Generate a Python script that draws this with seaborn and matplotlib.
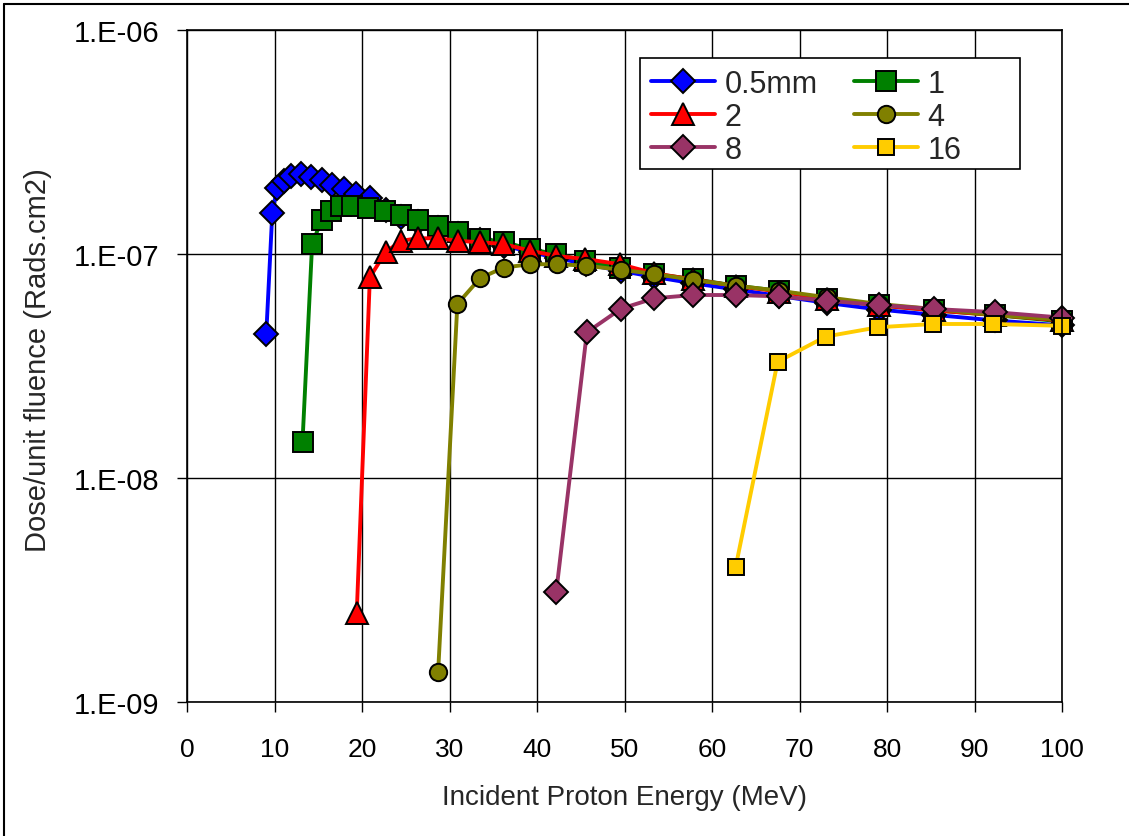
import numpy as np
import pandas as pd
import matplotlib
matplotlib.use("Agg")
import matplotlib.pyplot as plt
from matplotlib.ticker import FixedLocator, FuncFormatter, NullLocator
from matplotlib.lines import Line2D
from matplotlib.patches import Rectangle
import seaborn as sns

# Dose per unit fluence vs incident proton energy, one series per shield thickness
labels = ["0.5mm", "1", "2", "4", "8", "16"]

energy_05 = [9.06, 9.75, 10.3, 11.1, 11.9, 13.0, 14.2, 15.4, 16.6, 17.9, 19.3, 20.9,
             22.7, 24.5, 26.4, 28.7, 31.0, 33.5, 36.2, 39.3, 42.3, 45.6, 49.6, 53.4,
             57.8, 62.7, 67.6, 73.1, 79.1, 85.4, 92.3, 100.0]
dose_05 = [4.4e-8, 1.53e-7, 1.97e-7, 2.11e-7, 2.22e-7, 2.27e-7, 2.2e-7, 2.13e-7,
           2.04e-7, 1.95e-7, 1.85e-7, 1.77e-7, 1.58e-7, 1.47e-7, 1.39e-7, 1.31e-7,
           1.23e-7, 1.16e-7, 1.09e-7, 1.02e-7, 9.6e-8, 9.0e-8, 8.4e-8, 7.9e-8,
           7.4e-8, 6.95e-8, 6.5e-8, 6.05e-8, 5.65e-8, 5.35e-8, 5.05e-8, 4.8e-8]

energy_1 = [13.2, 14.3, 15.4, 16.4, 17.6, 18.9, 20.7, 22.6, 24.5, 26.4, 28.7, 31.0,
            33.5, 36.2, 39.2, 42.2, 45.5, 49.5, 53.4, 57.8, 62.7, 67.6, 73.1, 79.1,
            85.4, 92.3, 100.0]
dose_1 = [1.45e-8, 1.11e-7, 1.42e-7, 1.56e-7, 1.63e-7, 1.64e-7, 1.60e-7, 1.56e-7,
          1.49e-7, 1.42e-7, 1.33e-7, 1.26e-7, 1.17e-7, 1.135e-7, 1.05e-7, 1.0e-7,
          9.33e-8, 8.7e-8, 8.15e-8, 7.73e-8, 7.22e-8, 6.86e-8, 6.3e-8, 5.9e-8,
          5.6e-8, 5.34e-8, 5.0e-8]

energy_2 = [19.4, 20.9, 22.7, 24.5, 26.4, 28.7, 31.0, 33.5, 36.1, 39.2, 42.2, 45.5,
            49.5, 53.4, 57.8, 62.7, 67.6, 73.1, 79.1, 85.4, 92.3, 100.0]
dose_2 = [2.5e-9, 7.87e-8, 1.02e-7, 1.146e-7, 1.175e-7, 1.175e-7, 1.146e-7, 1.127e-7,
          1.11e-7, 1.035e-7, 9.8e-8, 9.5e-8, 9.0e-8, 8.2e-8, 7.7e-8, 7.2e-8, 6.8e-8,
          6.3e-8, 5.9e-8, 5.6e-8, 5.35e-8, 5.05e-8]

energy_4 = [28.7, 30.9, 33.5, 36.2, 39.2, 42.3, 45.6, 49.6, 53.4, 57.8, 62.7, 67.6,
            73.1, 79.1, 85.4, 92.3, 100.0]
dose_4 = [1.36e-9, 5.98e-8, 7.8e-8, 8.7e-8, 9.0e-8, 9.0e-8, 8.87e-8, 8.5e-8, 8.15e-8,
          7.67e-8, 7.22e-8, 6.86e-8, 6.41e-8, 5.98e-8, 5.68e-8, 5.34e-8, 5.09e-8]

energy_8 = [42.2, 45.7, 49.6, 53.4, 57.8, 62.7, 67.6, 73.1, 79.1, 85.4, 92.3, 100.0]
dose_8 = [3.1e-9, 4.47e-8, 5.7e-8, 6.34e-8, 6.56e-8, 6.56e-8, 6.47e-8, 6.19e-8,
          5.92e-8, 5.68e-8, 5.5e-8, 5.2e-8]

energy_16 = [62.7, 67.5, 73.0, 79.0, 85.3, 92.1, 100.0]
dose_16 = [4.0e-9, 3.3e-8, 4.28e-8, 4.71e-8, 4.87e-8, 4.87e-8, 4.78e-8]

y_ticks = [1e-9, 1e-8, 1e-7, 1e-6]
x_ticks = [0, 10, 20, 30, 40, 50, 60, 70, 80, 90, 100]

series = [
    (labels[0], energy_05, dose_05, "#0000FF", "D", 12.5),
    (labels[1], energy_1, dose_1, "#008000", "s", 15),
    (labels[2], energy_2, dose_2, "#FF0000", "^", 16.5),
    (labels[3], energy_4, dose_4, "#808000", "o", 12.5),
    (labels[4], energy_8, dose_8, "#993366", "D", 12.5),
    (labels[5], energy_16, dose_16, "#FFCC00", "s", 12),
]

sns.set_style("white")
plt.rcParams["font.family"] = ["Liberation Sans", "DejaVu Sans"]

fig = plt.figure(figsize=(11.29, 8.37), dpi=100)
ax = fig.add_axes([187 / 1129, 1 - 703 / 837, 875 / 1129, 672 / 837])

for name, xs, ys, col, mk, ms in series:
    df = pd.DataFrame({"energy": xs, "dose": ys})
    sns.lineplot(data=df, x="energy", y="dose", ax=ax, color=col, linewidth=2.8,
                 marker=mk, markersize=ms, markeredgecolor="black",
                 markeredgewidth=1.4, markerfacecolor=col, label=name,
                 estimator=None, sort=False, clip_on=False)

ax.set_yscale("log")
ax.set_xlim(0, 100)
ax.set_ylim(1e-9, 1e-6)
ax.xaxis.set_major_locator(FixedLocator(x_ticks))
ax.yaxis.set_major_locator(FixedLocator(y_ticks))
ax.yaxis.set_minor_locator(NullLocator())
ax.yaxis.set_major_formatter(FuncFormatter(lambda v, p: "1.E-%02d" % round(-np.log10(v))))
ax.grid(True, which="major", color="black", linewidth=1.0)
ax.set_axisbelow(True)
for s in ax.spines.values():
    s.set_color("black")
    s.set_linewidth(1.2)
    s.set_visible(True)

ax.tick_params(axis="both", which="major", direction="out", length=7, width=1,
               color="black", labelcolor="black")
ax.tick_params(axis="y", labelsize=21, pad=13, left=True)
ax.tick_params(axis="x", labelsize=19, pad=18, bottom=True)

ax.set_xlabel("Incident Proton Energy (MeV)", fontsize=20)
ax.set_ylabel("Dose/unit fluence (Rads.cm2)", fontsize=21)
ax.xaxis.set_label_coords(0.5, -0.122)
ax.yaxis.set_label_coords(-0.154, 0.51)

# legend box drawn as its own white panel
ax.add_patch(Rectangle((453 / 875, (703 - 170) / 672), 380 / 875, 111 / 672,
                       transform=ax.transAxes, facecolor="white", edgecolor="black",
                       linewidth=1.2, zorder=4, clip_on=False))

handles, lbls = ax.get_legend_handles_labels()
order = [0, 2, 4, 1, 3, 5]
leg = ax.legend([handles[i] for i in order], [lbls[i] for i in order], ncol=2,
                loc="upper left", bbox_to_anchor=(0.518, 0.958), borderaxespad=0,
                fontsize=22, frameon=False, handlelength=2.1, handletextpad=0.3,
                columnspacing=1.2, labelspacing=0.1, borderpad=0.35)
leg.set_zorder(6)

# outer frame lines along the left and top edges of the figure
fig.add_artist(Line2D([4 / 1129, 4 / 1129], [0, 1 - 5 / 837], transform=fig.transFigure,
                      color="black", linewidth=1.5))
fig.add_artist(Line2D([4 / 1129, 1], [1 - 5 / 837, 1 - 5 / 837], transform=fig.transFigure,
                      color="black", linewidth=1.5))

fig.savefig("out.png", dpi=100, facecolor="white")
